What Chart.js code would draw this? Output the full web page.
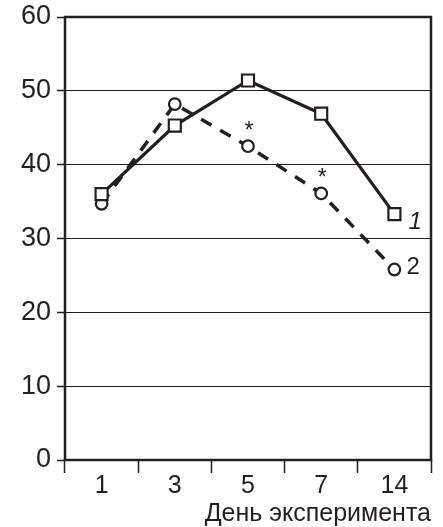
<!DOCTYPE html>
<html>
<head>
<meta charset="utf-8">
<script src="https://cdn.jsdelivr.net/npm/chart.js@4/dist/chart.umd.min.js"></script>
<style>
  html, body { margin: 0; padding: 0; background: #fff; }
  #wrap { width: 443px; height: 527px; }
</style>
</head>
<body>
<div id="wrap"><canvas id="c" width="443" height="527"></canvas></div>
<script>
// Experiment days (categories)
const days = ['1', '3', '5', '7', '14'];
// Series 1 (solid line, squares)
const series1 = [36.0, 45.3, 51.4, 46.9, 33.3];
// Series 2 (dashed line, circles)
const series2 = [34.7, 48.2, 42.5, 36.1, 25.8];
// Significance marks for series 2
const marks2 = ['', '', '*', '*', ''];
// Curve labels at the last point
const curveLabels = ['1', '2'];
// Y axis ticks
const yTicks = [0, 10, 20, 30, 40, 50, 60];

const FONT = "'Liberation Sans', Arial, sans-serif";
const INK = '#231f20';

// Frame around the plot area
const framePlugin = {
  id: 'frame',
  afterDatasetsDraw(chart) {
    const { ctx, chartArea: a } = chart;
    ctx.save();
    ctx.strokeStyle = INK;
    ctx.lineWidth = 2.5;
    ctx.strokeRect(a.left, a.top, a.right - a.left, a.bottom - a.top);
    ctx.restore();
  }
};

// Asterisks above points and curve numbers at the line ends
const annotPlugin = {
  id: 'annot',
  afterDatasetsDraw(chart) {
    const { ctx } = chart;
    ctx.save();
    ctx.fillStyle = INK;
    const m2 = chart.getDatasetMeta(1);
    ctx.font = '23px ' + FONT;
    ctx.textAlign = 'center';
    ctx.textBaseline = 'middle';
    marks2.forEach((m, i) => {
      if (!m) return;
      const p = m2.data[i];
      ctx.fillText(m, p.x + 1, p.y - 15);
    });
    ctx.textAlign = 'left';
    const m1 = chart.getDatasetMeta(0);
    const last1 = m1.data[m1.data.length - 1];
    ctx.font = 'italic 24px ' + FONT;
    ctx.fillText(curveLabels[0], last1.x + 14, last1.y + 8);
    const last2 = m2.data[m2.data.length - 1];
    ctx.font = '24px ' + FONT;
    ctx.fillText(curveLabels[1], last2.x + 12, last2.y - 2);
    ctx.restore();
  }
};

new Chart(document.getElementById('c'), {
  type: 'line',
  data: {
    labels: days,
    datasets: [
      {
        label: '1',
        data: series1,
        borderColor: INK,
        borderWidth: 3.2,
        tension: 0,
        pointStyle: 'rect',
        pointRadius: 8.5,
        pointBorderWidth: 2.2,
        pointBackgroundColor: '#fff',
        pointBorderColor: INK,
        order: 0
      },
      {
        label: '2',
        data: series2,
        borderColor: INK,
        borderWidth: 3.5,
        borderDash: [12, 10],
        tension: 0,
        pointStyle: 'circle',
        pointRadius: 5.8,
        pointBorderWidth: 2.2,
        pointBackgroundColor: '#fff',
        pointBorderColor: INK,
        order: 1
      }
    ]
  },
  options: {
    responsive: false,
    animation: false,
    layout: { padding: { top: 17, right: 12, left: 0, bottom: 0 } },
    plugins: { legend: { display: false }, tooltip: { enabled: false } },
    scales: {
      x: {
        type: 'category',
        offset: true,
        grid: {
          offset: true,
          drawOnChartArea: false,
          drawTicks: true,
          tickLength: 13,
          tickColor: INK,
          tickWidth: 1.5
        },
        border: { display: false },
        ticks: { color: INK, font: { family: FONT, size: 25 }, padding: -2 },
        title: {
          display: true,
          text: 'День эксперимента',
          align: 'end',
          color: INK,
          font: { family: FONT, size: 25 },
          padding: { top: 0, bottom: -2 }
        },
        afterFit(scale) {
          scale.height = 67;
          scale.paddingLeft = 0;
          scale.paddingRight = 0;
        }
      },
      y: {
        min: 0,
        max: 60,
        afterBuildTicks(scale) { scale.ticks = yTicks.map(v => ({ value: v })); },
        grid: {
          color: INK,
          lineWidth: 1,
          drawTicks: true,
          tickLength: 8,
          tickColor: INK,
          tickWidth: 1.5
        },
        border: { display: false },
        ticks: { color: INK, font: { family: FONT, size: 27 }, padding: 6 },
        afterFit(scale) {
          scale.width = 65;
          scale.paddingTop = 0;
          scale.paddingBottom = 0;
        }
      }
    }
  },
  plugins: [framePlugin, annotPlugin]
});
</script>
</body>
</html>
